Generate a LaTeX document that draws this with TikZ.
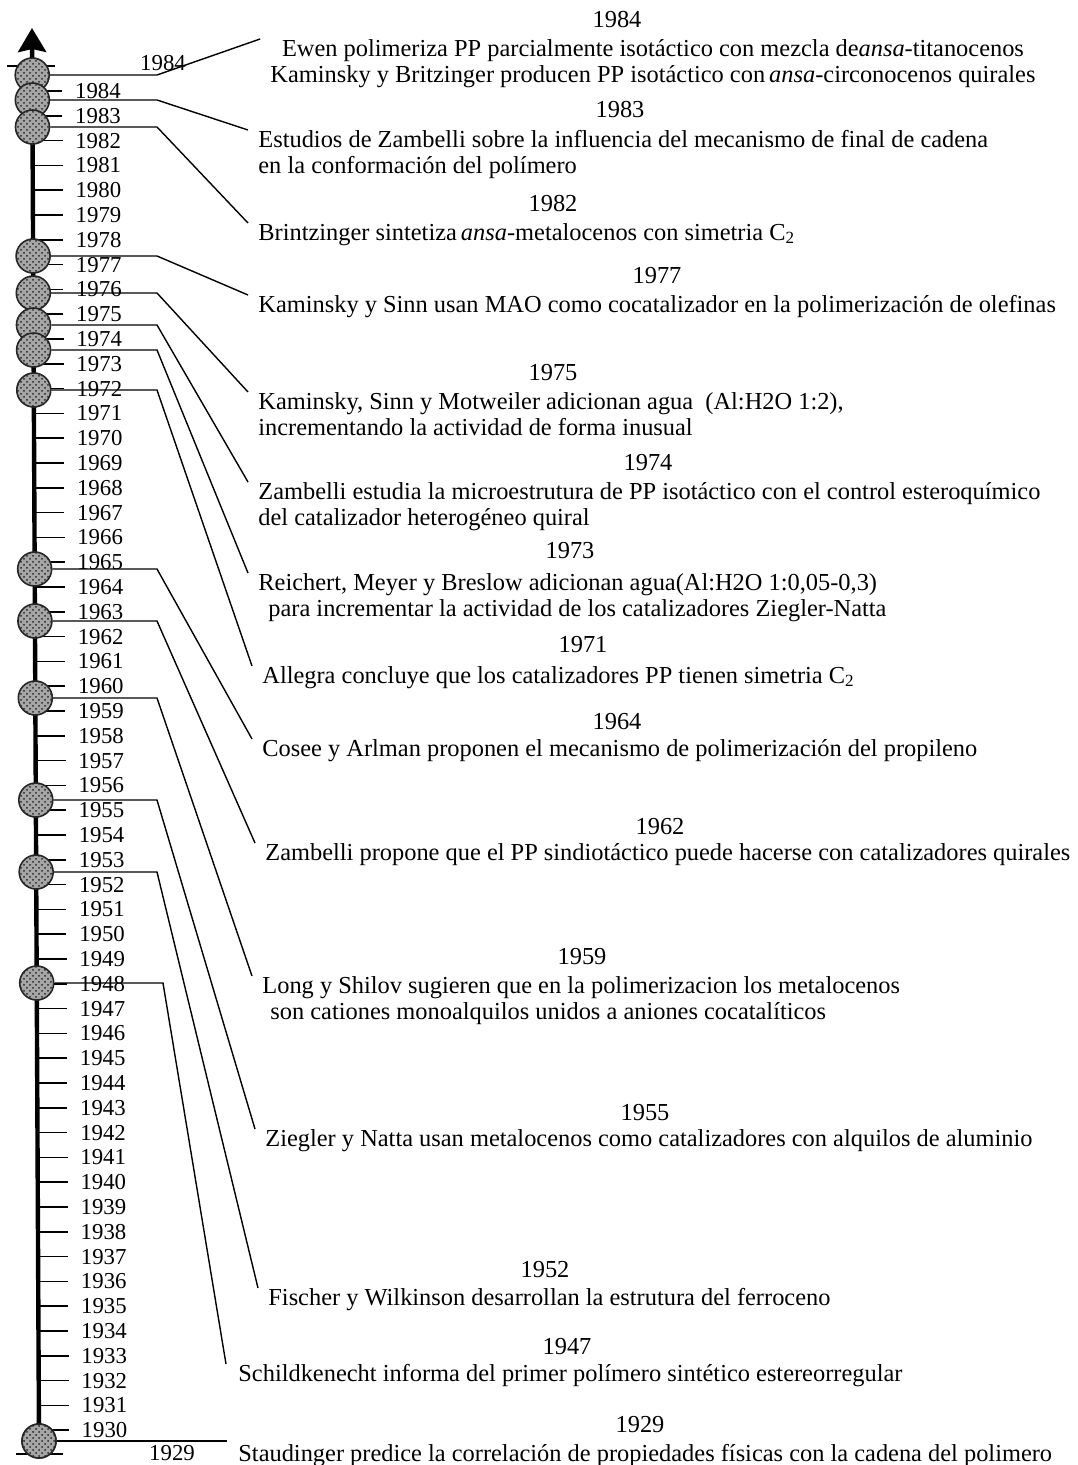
\documentclass[tikz,border=0pt]{standalone}
\usepackage{fontspec}
\setmainfont{Liberation Serif}
\usetikzlibrary{arrows.meta, patterns, positioning}
\newcommand{\evfont}{\fontsize{12.2}{13}\selectfont}
\tikzset {
  axisline/.style = {line width=2.2pt, -{Stealth[length=12pt, width=14pt, inset=1.5pt]}},
  tickline/.style = {line width=0.8pt},
  yearlab/.style = {anchor=west, inner sep=0, font=\fontsize{11.4}{12}\selectfont},
  ball/.style = {circle, draw=black!85, line width=0.8pt, minimum size=17pt, inner sep=0, preaction={fill=gray!70}, pattern=crosshatch dots, pattern color=black!85},
  leader/.style = {line width=0.7pt},
  head/.style = {inner sep=0, font=\evfont},
  txt/.style = {anchor=north west, inner sep=0, align=left, font=\evfont},
}

\begin{document}
\begin{tikzpicture}[x=0.5pt, y=-0.5pt]
    \useasboundingbox (0,0) rectangle (1077,1465);

    % year scale
    \coordinate (top) at (32,28);
    \coordinate (bend) at (157,0);
    \coordinate (bendb) at (163,0);
    \foreach \yr in {1930,...,1984} {
      \pgfmathsetmacro{\ty}{91+(1984-\yr)*24.8}
      \pgfmathsetmacro{\tx}{32+7*(\ty-30)/1415}
      \draw[tickline] (\tx,\ty) -- ++(30,0) node[yearlab, inner xsep=6pt] (y\yr) {\yr};
    }
    \draw[tickline] (7,66) -- (55,66);
    \draw[tickline] (16,1454) -- (63,1454);
    \node[yearlab, anchor=center, name=l84] (l84) at (163,63) {1984};
    \node[yearlab, anchor=center, name=l29] (l29) at (172,1453) {1929};

    % events
    \node[ball, name=c29] (c29) at (39,1441) {};
    \draw[axisline] (c29.center) -- (top);
    \foreach \n/\y in {84/75, 83/100, 82/127, 77/256, 75/293, 74/325, 73/350, 71/390,
                       64/569, 62/621, 59/698, 55/800, 52/872, 47/983} {
      \node[ball, name=c\n] (c\n) at ({32+7*(\y-30)/1415},\y) {};
    }
    \node[ball] at (39,1441) {};

    \node[head, name=h84] (h84) at (617,20) {1984};
    \node[txt, align=center, anchor=north, name=t84] (t84) at (653,39) {Ewen polimeriza PP parcialmente isotáctico con mezcla de\textit{ansa}-titanocenos\\Kaminsky y Britzinger producen PP isotáctico con\,\textit{ansa}-circonocenos quirales};
    \node[head, name=h83] (h83) at (620,110) {1983};
    \node[txt, name=t83] (t83) at (258,130) {Estudios de Zambelli sobre la influencia del mecanismo de final de cadena\\en la conformación del polímero};
    \node[head, name=h82] (h82) at (553,204) {1982};
    \node[txt, name=t82] (t82) at (258,223) {Brintzinger sintetiza\,\textit{ansa}-metalocenos con simetria C\textsubscript{2}};
    \node[head, name=h77] (h77) at (657,276) {1977};
    \node[txt, name=t77] (t77) at (258,295) {Kaminsky y Sinn usan MAO como cocatalizador en la polimerización de olefinas};
    \node[head, name=h75] (h75) at (553,373) {1975};
    \node[txt, name=t75] (t75) at (258,392) {Kaminsky, Sinn y Motweiler adicionan agua~ (Al:H2O 1:2),\\incrementando la actividad de forma inusual};
    \node[head, name=h74] (h74) at (648,463) {1974};
    \node[txt, name=t74] (t74) at (258,482) {Zambelli estudia la microestrutura de PP isotáctico con el control esteroquímico\\del catalizador heterogéneo quiral};
    \node[head, name=h73] (h73) at (570,551) {1973};
    \node[txt, name=t73] (t73) at (258,573) {Reichert, Meyer y Breslow adicionan agua(Al:H2O 1:0,05-0,3)\\\hspace{5pt}para incrementar la actividad de los catalizadores Ziegler-Natta};
    \node[head, name=h71] (h71) at (583,645) {1971};
    \node[txt, name=t71] (t71) at (262,666) {Allegra concluye que los catalizadores PP tienen simetria C\textsubscript{2}};
    \node[head, name=h64] (h64) at (617,722) {1964};
    \node[txt, name=t64] (t64) at (262,739) {Cosee y Arlman proponen el mecanismo de polimerización del propileno};
    \node[head, name=h62] (h62) at (660,827) {1962};
    \node[txt, name=t62] (t62) at (265,843) {Zambelli propone que el PP sindiotáctico puede hacerse con catalizadores quirales};
    \node[head, name=h59] (h59) at (582,957) {1959};
    \node[txt, name=t59] (t59) at (262,976) {Long y Shilov sugieren que en la polimerizacion los metalocenos\\\hspace{4pt}son cationes monoalquilos unidos a aniones cocatalíticos};
    \node[head, name=h55] (h55) at (645,1113) {1955};
    \node[txt, name=t55] (t55) at (265,1129) {Ziegler y Natta usan metalocenos como catalizadores con alquilos de aluminio};
    \node[head, name=h52] (h52) at (545,1270) {1952};
    \node[txt, name=t52] (t52) at (268,1288) {Fischer y Wilkinson desarrollan la estrutura del ferroceno};
    \node[head, name=h47] (h47) at (567,1347) {1947};
    \node[txt, name=t47] (t47) at (238,1364) {Schildkenecht informa del primer polímero sintético estereorregular};
    \node[head, name=h29] (h29) at (640,1425) {1929};
    \node[txt, name=t29] (t29) at (238,1444) {Staudinger predice la correlación de propiedades físicas con la cadena del polimero};

    % leaders
    \foreach \n in {84,83,82,77,75,74,73,71,64,62,59,55,52} {
      \draw[leader] (c\n.east) -- (c\n.east -| bend) -- ([xshift=-5pt]t\n.north west);
    }
    \draw[leader] (c47.east) -- (c47.east -| bendb) -- ([xshift=-6pt]t47.north west);
    \draw[leader, shorten >=5.5pt] (c29.east) -- (c29.east -| t29.west);

\end{tikzpicture}
\end{document}
